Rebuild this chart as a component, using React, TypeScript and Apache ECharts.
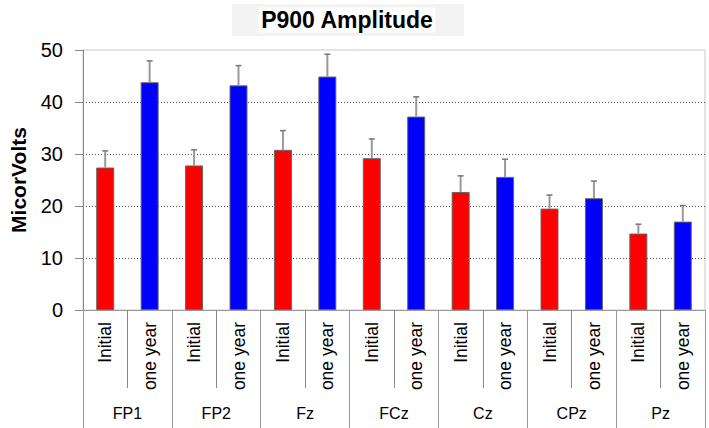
import React, { useEffect, useRef } from "react";
import * as echarts from "echarts";

const groups = ["FP1", "FP2", "Fz", "FCz", "Cz", "CPz", "Pz"];
const conditions = ["Initial", "one year"];
const initialValues = [27.4, 27.8, 30.8, 29.2, 22.7, 19.5, 14.7];
const oneYearValues = [43.8, 43.2, 44.9, 37.2, 25.6, 21.5, 17.0];
const initialErrTop = [30.6, 30.8, 34.5, 32.9, 25.8, 22.1, 16.5];
const oneYearErrTop = [47.9, 47.0, 49.2, 41.0, 29.0, 24.8, 20.1];
const yTicks = { min: 0, max: 50, interval: 10 };
const colors = { Initial: "#ff0000", "one year": "#0000ff" };

export default function App() {
  const ref = useRef<HTMLDivElement>(null);
  useEffect(() => {
    if (!ref.current) return;
    const chart = echarts.init(ref.current, null, { renderer: "svg" });
    const cats: string[] = [];
    const barData: any[] = [];
    const errData: any[] = [];
    groups.forEach((g, i) => {
      const vals = [initialValues[i], oneYearValues[i]];
      const errs = [initialErrTop[i], oneYearErrTop[i]];
      conditions.forEach((c, j) => {
        const idx = cats.length;
        cats.push(c);
        barData.push({
          value: vals[j],
          itemStyle: { color: (colors as any)[c] },
        });
        errData.push([idx, errs[j], vals[j]]);
      });
    });
    const font = "Arial, 'Liberation Sans', sans-serif";
    chart.setOption({
      animation: false,
      textStyle: { fontFamily: font },
      graphic: [
        {
          type: "rect",
          shape: { x: 232, y: 4, width: 232, height: 32 },
          style: { fill: "#f3f3f3" },
          silent: true,
        },
        {
          type: "text",
          x: 347,
          y: 20,
          style: {
            text: "P900 Amplitude",
            font: `bold 23px ${font}`,
            fill: "#000",
            align: "center",
            verticalAlign: "middle",
            backgroundColor: "#fff",
            padding: [1, 2],
          },
        },
      ],
      grid: {
        left: 77,
        right: 4,
        top: 50,
        bottom: 118,
        show: true,
        borderColor: "#c8c8c8",
        borderWidth: 1,
      },
      xAxis: [
        {
          type: "category",
          data: cats,
          position: "bottom",
          offset: 0,
          axisLine: { lineStyle: { color: "#999", width: 1 } },
          axisTick: {
            show: true,
            interval: 0,
            length: 78,
            lineStyle: { color: "#888", width: 1 },
          },
          axisLabel: {
            interval: 0,
            rotate: 90,
            margin: 12,
            fontSize: 17.5,
            color: "#000",
            fontFamily: font,
          },
        },
        {
          type: "category",
          data: groups,
          position: "bottom",
          offset: 0,
          axisLine: { show: false },
          axisTick: {
            show: true,
            interval: 0,
            length: 118,
            lineStyle: { color: "#999", width: 1 },
          },
          axisLabel: {
            interval: 0,
            margin: 95,
            fontSize: 16,
            color: "#000",
            fontFamily: font,
          },
        },
      ],
      yAxis: {
        type: "value",
        min: yTicks.min,
        max: yTicks.max,
        interval: yTicks.interval,
        name: "MicorVolts",
        nameLocation: "middle",
        nameGap: 54,
        nameTextStyle: {
          fontWeight: "bold",
          fontSize: 21,
          color: "#000",
          fontFamily: font,
        },
        axisLine: { show: true, lineStyle: { color: "#888", width: 1 } },
        axisTick: { show: true, length: 8, lineStyle: { color: "#888" } },
        axisLabel: { margin: 20, fontSize: 20, color: "#000", fontFamily: font },
        splitLine: {
          show: true,
          showMinLine: false,
          showMaxLine: false,
          lineStyle: { color: "#555", type: [1, 2], width: 1 },
        },
      },
      series: [
        {
          type: "bar",
          xAxisIndex: 0,
          data: barData,
          barWidth: 18,
          itemStyle: { borderColor: "#666", borderWidth: 1 },
          z: 2,
        },
        {
          type: "custom",
          xAxisIndex: 0,
          data: errData,
          z: 3,
          renderItem: (params: any, api: any) => {
            const top = api.coord([api.value(0), api.value(1)]);
            const base = api.coord([api.value(0), api.value(2)]);
            return {
              type: "group",
              children: [
                {
                  type: "line",
                  shape: { x1: top[0], y1: base[1], x2: top[0], y2: top[1] },
                  style: { stroke: "#999", lineWidth: 2 },
                },
                {
                  type: "line",
                  shape: { x1: top[0] - 3, y1: top[1], x2: top[0] + 3, y2: top[1] },
                  style: { stroke: "#777", lineWidth: 1.5 },
                },
              ],
            };
          },
        },
      ],
    });
    return () => chart.dispose();
  }, []);
  return (
    <div
      ref={ref}
      style={{ position: "fixed", left: 0, top: 0, width: 709, height: 428, background: "#fff" }}
    />
  );
}
